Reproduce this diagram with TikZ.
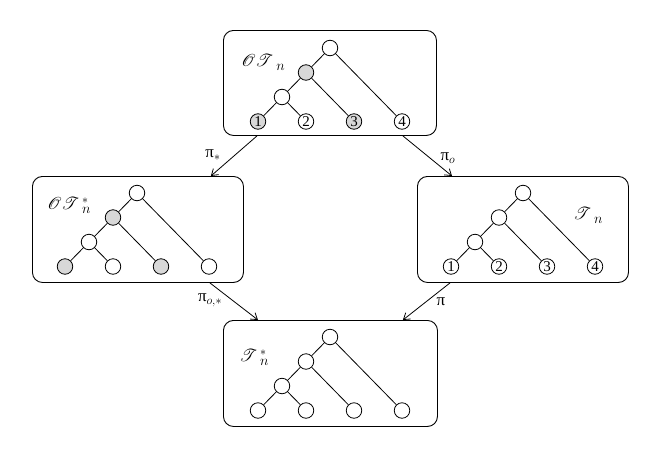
\documentclass[tikz,border=0pt]{standalone}
\usepackage{fontspec}
\setmainfont{Liberation Serif}
\usepackage{mathrsfs}
\usetikzlibrary{arrows.meta}
\definecolor{leafgray}{HTML}{D8D8D8}
\tikzset{
  panel/.style={draw, line width=0.9pt, rounded corners=10pt, inner sep=0pt},
  tn/.style={circle, draw, line width=0.8pt, minimum size=15.5pt, inner sep=0pt, fill=white, font=\fontsize{15}{15}\selectfont},
  gn/.style={tn, fill=leafgray},
  br/.style={line width=0.8pt},
  arr/.style={line width=0.8pt, -{Straight Barb[length=6pt,width=8pt]}},
  lab/.style={font=\fontsize{17}{17}\selectfont, inner sep=0pt},
  plab/.style={font=\fontsize{17}{17}\selectfont, inner sep=0pt}
}
% #1 prefix, #2 root x, #3 root y, #4..#9 styles/labels
\newcommand{\mytreedraw}[9]{%
  \node[#4] (#1r) at (#2,#3) {};
  \node[#5] (#1a) at (#2-24,#3+24.5) {};
  \node[tn] (#1b) at (#2-48,#3+49) {};
  \node[#6] (#1l1) at (#2-72,#3+73.5) {#7};
  \node[tn] (#1l2) at (#2-24,#3+73.5) {#8};
  \node[#6] (#1l3) at (#2+24,#3+73.5) {#9};
  \node[tn] (#1l4) at (#2+72,#3+73.5) {\mylastlabel};
  \draw[br] (#1r) -- (#1a) (#1a) -- (#1b) (#1b) -- (#1l1) (#1b) -- (#1l2) (#1a) -- (#1l3) (#1r) -- (#1l4);
}
\newcommand{\subn}{\raisebox{-4pt}{\fontsize{14}{14}\selectfont$n$}}
\newcommand{\supstar}{\rlap{\raisebox{6pt}{\fontsize{13}{13}\selectfont$*$}}}
\begin{document}
\begin{tikzpicture}[x=1pt,y=-1pt]
\useasboundingbox (0,0) rectangle (660,458);
% panels
\node[panel, minimum width=213pt, minimum height=105pt, anchor=north west] (top) at (223,30) {};
\node[panel, minimum width=211pt, minimum height=106pt, anchor=north west] (left) at (32,176) {};
\node[panel, minimum width=211pt, minimum height=106pt, anchor=north west] (right) at (417,176) {};
\node[panel, minimum width=214pt, minimum height=106pt, anchor=north west] (bot) at (223,320) {};
% trees
\def\mylastlabel{4}
\mytreedraw{t}{330}{48}{tn}{gn}{gn}{1}{2}{3}
\def\mylastlabel{}
\mytreedraw{l}{137}{193}{tn}{gn}{gn}{}{}{}
\def\mylastlabel{4}
\mytreedraw{rr}{523}{193}{tn}{tn}{tn}{1}{2}{3}
\def\mylastlabel{}
\mytreedraw{b}{330}{337}{tn}{tn}{tn}{}{}{}
% panel labels
\node[lab] (toplab) at (263,62) {$\mathscr{O}\mathscr{T}$\,\subn};
\node[lab] (leftlab) at (69,205) {$\mathscr{O}\mathscr{T}$\,\supstar\subn};
\node[lab] (rightlab) at (588,215) {$\mathscr{T}$\,\subn};
\node[lab] (botlab) at (254,357) {$\mathscr{T}$\,\supstar\subn};
% arrows
\draw[arr] ([xshift=34pt]top.south west) -- ([xshift=-33pt]left.north east);
\draw[arr] ([xshift=-34pt]top.south east) -- ([xshift=35pt]right.north west);
\draw[arr] ([xshift=-34pt]left.south east) -- ([xshift=35pt]bot.north west);
\draw[arr] ([xshift=33pt]right.south west) -- ([xshift=-35pt]bot.north east);
% arrow labels
\node[plab] (p1) at (213,155) {π$_{*}$};
\node[plab] (p2) at (448,158) {π$_{o}$};
\node[plab] (p3) at (210,300) {π$_{o,*}$};
\node[plab] (p4) at (441,302) {π};
\end{tikzpicture}
\end{document}
